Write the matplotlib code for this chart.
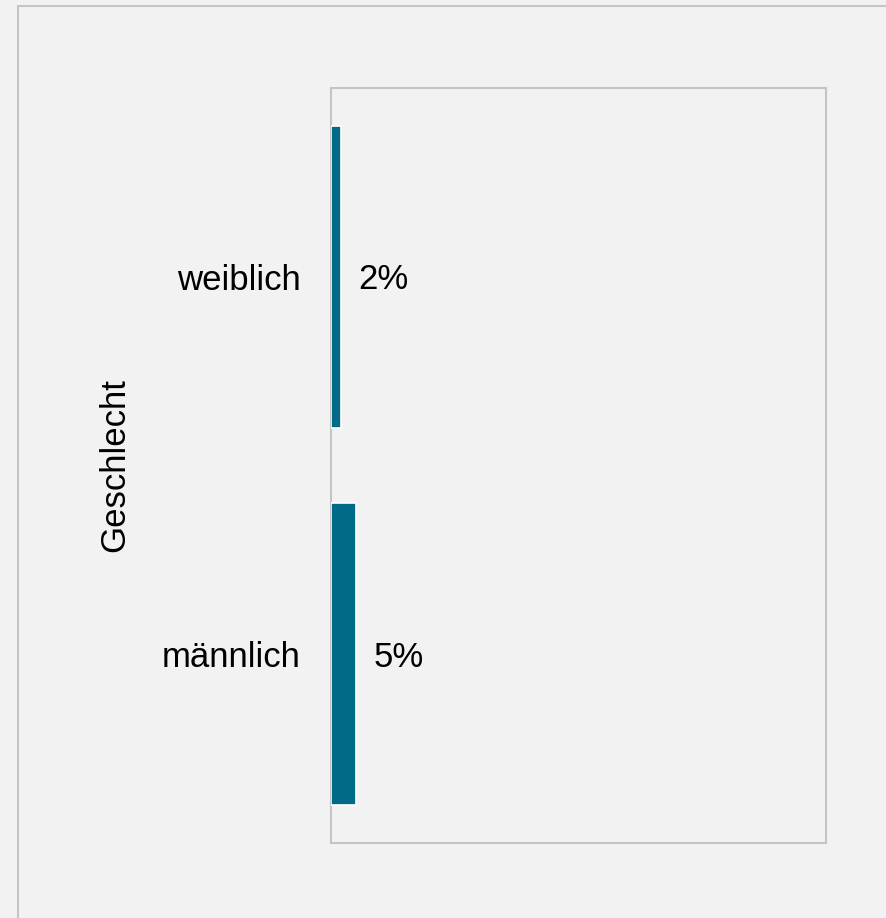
import matplotlib
matplotlib.use("Agg")
import matplotlib.pyplot as plt
from matplotlib.patches import Rectangle

plt.rcParams['font.family'] = ['Liberation Sans', 'DejaVu Sans']

categories = ["weiblich", "männlich"]
values = [2, 5]          # percent
value_labels = ["2%", "5%"]
axis_title = "Geschlecht"

bg = "#f2f2f2"
bar_color = "#006a87"
frame_color = "#c4c4c4"
fs = 25

fig = plt.figure(figsize=(8.86, 9.18), dpi=100, facecolor=bg)
ax = fig.add_axes([331 / 886, 75 / 918, 495 / 886, 755 / 918], facecolor=bg)

# outer panel frame (open to the right and bottom)
fig.patches.append(Rectangle((17.5 / 886, -0.2), 1.5, 0.2 + (1 - 5.5 / 918),
                             transform=fig.transFigure, fill=False,
                             edgecolor=frame_color, linewidth=1.5, zorder=0))

pos = list(range(len(categories)))
ax.barh(pos, values, height=0.8, color=bar_color, edgecolor="white",
        linewidth=1.2, zorder=3)

for p, v, lab in zip(pos, values, value_labels):
    ax.annotate(lab, xy=(v, p), xytext=(12.5, -2), textcoords="offset points",
                ha="left", va="center", fontsize=fs, color="black")

ax.set_xlim(0, 100)
ax.set_ylim(1.5, -0.5)
ax.set_yticks(pos)
ax.set_yticklabels(categories, fontsize=fs)
ax.tick_params(axis="y", length=0, pad=22)
ax.set_xticks([])
ax.set_ylabel(axis_title, fontsize=fs, labelpad=22)

for s in ax.spines.values():
    s.set_color(frame_color)
    s.set_linewidth(1.5)
    s.set_zorder(2)

fig.savefig("out.png", dpi=100, facecolor=bg)
